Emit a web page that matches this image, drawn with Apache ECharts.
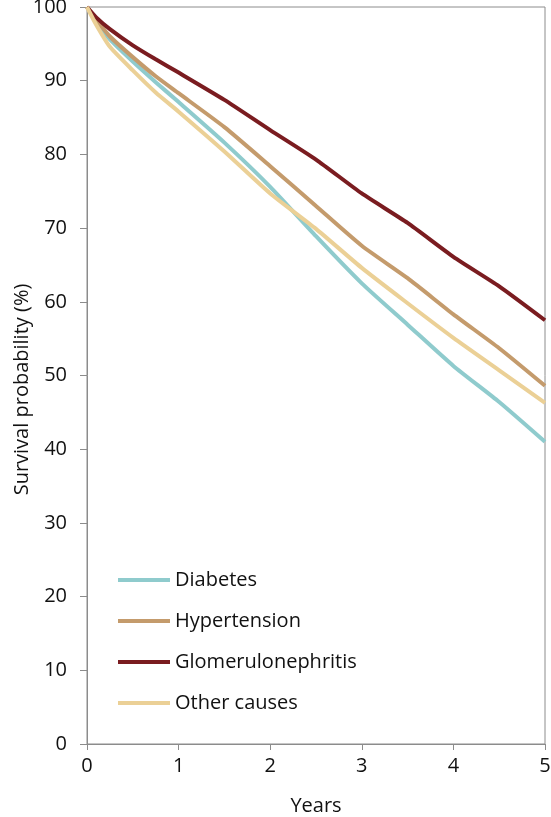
<!DOCTYPE html>
<html>
<head>
<meta charset="utf-8">
<script src="https://cdn.jsdelivr.net/npm/echarts@6/dist/echarts.min.js"></script>
<style>html,body{margin:0;padding:0;background:#fff}#c{width:551px;height:817px}</style>
</head>
<body>
<div id="c"></div>
<script>
var years = [0, 0.1, 0.25, 0.5, 0.75, 1, 1.5, 2, 2.5, 3, 3.5, 4, 4.5, 5];
var diabetes = [100, 98.0, 95.6, 92.6, 89.8, 87.1, 81.6, 75.6, 68.9, 62.5, 56.9, 51.3, 46.4, 41.0];
var hypertension = [100, 98.3, 96.0, 93.2, 90.6, 88.3, 83.7, 78.4, 73.0, 67.6, 63.2, 58.3, 53.7, 48.6];
var glomerulonephritis = [100, 98.6, 97.0, 94.8, 92.9, 91.1, 87.4, 83.3, 79.3, 74.7, 70.7, 66.1, 62.1, 57.5];
var otherCauses = [100, 97.6, 94.6, 91.4, 88.4, 85.8, 80.4, 74.7, 69.9, 64.6, 59.8, 55.1, 50.7, 46.3];
var seriesNames = ['Diabetes', 'Hypertension', 'Glomerulonephritis', 'Other causes'];
var colors = ['#8FCBCD', '#C49B6C', '#7A1C20', '#EBD096'];
var yTicks = {min: 0, max: 100, interval: 10};
var xTicks = {min: 0, max: 5, interval: 1};

function pairs(xs, ys) { return xs.map(function (x, i) { return [x, ys[i]]; }); }
var allData = [diabetes, hypertension, glomerulonephritis, otherCauses];
var FONT = '"Open Sans", sans-serif';

var chart = echarts.init(document.getElementById('c'), null, {renderer: 'canvas'});
chart.setOption({
  animation: false,
  backgroundColor: '#fff',
  grid: {left: 87, right: 6, top: 7, bottom: 73, show: true, borderColor: '#8c8c8c', borderWidth: 1,
         containLabel: false, outerBoundsMode: 'none'},
  legend: {
    orient: 'vertical', left: 118, top: 570, padding: 0,
    icon: 'rect', itemWidth: 52, itemHeight: 4, itemGap: 21,
    textStyle: {fontFamily: FONT, fontSize: 20, color: '#111'},
    data: seriesNames
  },
  xAxis: {
    type: 'value', min: xTicks.min, max: xTicks.max, interval: xTicks.interval,
    name: 'Years', nameLocation: 'middle', nameGap: 52, nameMoveOverlap: false,
    nameTextStyle: {fontFamily: FONT, fontSize: 20, color: '#111'},
    axisLine: {show: true, lineStyle: {color: '#8c8c8c', width: 1}},
    axisTick: {show: true, length: 6, lineStyle: {color: '#8c8c8c'}},
    axisLabel: {fontFamily: FONT, fontSize: 20, color: '#111', margin: 12},
    splitLine: {show: false}
  },
  yAxis: {
    type: 'value', min: yTicks.min, max: yTicks.max, interval: yTicks.interval,
    name: 'Survival probability (%)', nameLocation: 'middle', nameGap: 55, nameMoveOverlap: false,
    nameTextStyle: {fontFamily: FONT, fontSize: 20, color: '#111', padding: [0, 28, 0, 0]},
    axisLine: {show: true, lineStyle: {color: '#8c8c8c', width: 1}},
    axisTick: {show: true, length: 7, lineStyle: {color: '#8c8c8c'}},
    axisLabel: {fontFamily: FONT, fontSize: 20, color: '#111', margin: 20},
    splitLine: {show: false}
  },
  series: seriesNames.map(function (n, i) {
    return {
      name: n, type: 'line', data: pairs(years, allData[i]),
      symbol: 'none', smooth: 0.2, color: colors[i],
      lineStyle: {width: 4, color: colors[i]}
    };
  })
});
</script>
</body>
</html>
